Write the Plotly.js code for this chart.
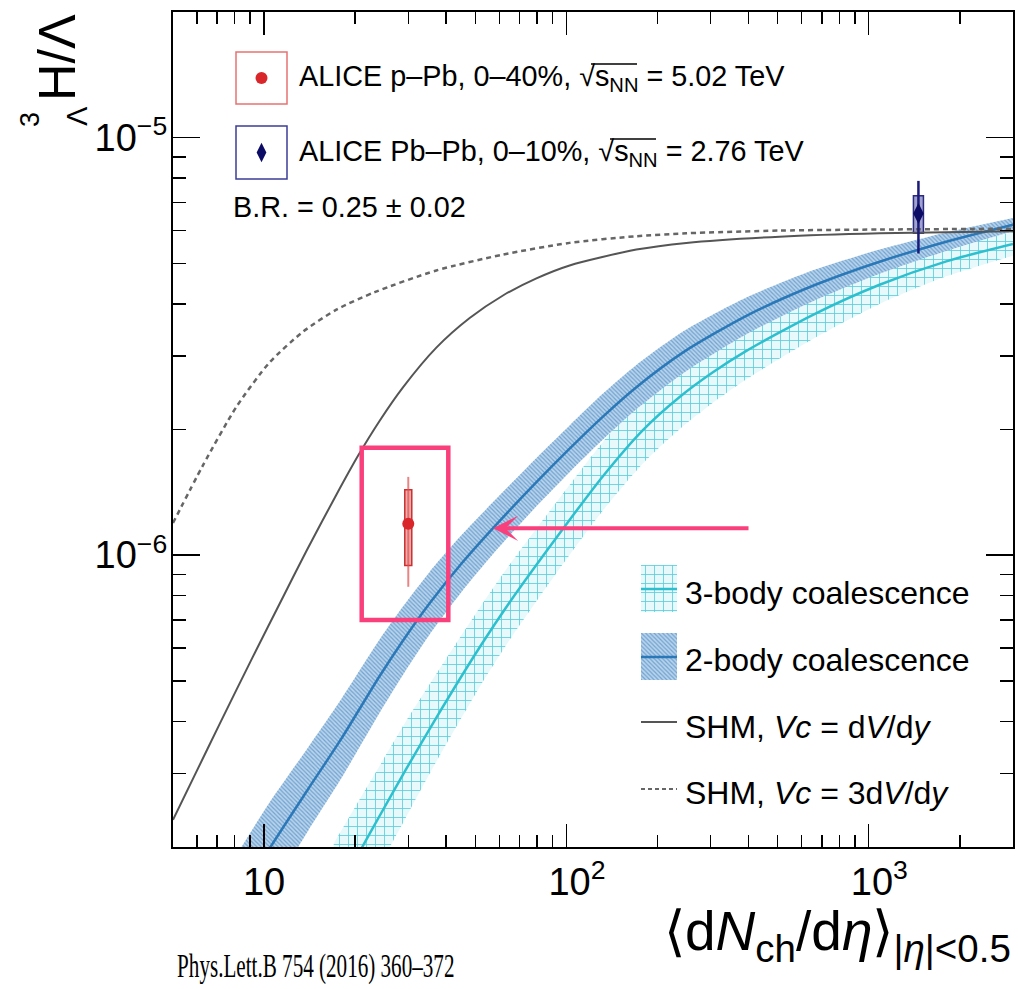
<!DOCTYPE html>
<html>
<head>
<meta charset="utf-8">
<script src="https://cdn.plot.ly/plotly-3.0.1.min.js"></script>
<style>
  html, body { margin: 0; padding: 0; background: #fff; }
  #chart { width: 1018px; height: 989px; }
</style>
</head>
<body>
<div id="chart"></div>
<script>
// Statistical hadronisation model, Vc = dV/dy
const shmX = [5, 5.9, 7.135, 9.19, 11.56, 13.81, 17.35, 20.46, 24.13, 28.81, 37.15, 47.88, 61.7, 79.6, 102.5, 170.4, 249.3, 507.4, 1086, 3000];
const shmY = [2.323e-7, 2.972e-7, 3.945e-7, 5.715e-7, 7.943e-7, 1.023e-6, 1.396e-6, 1.730e-6, 2.099e-6, 2.523e-6, 3.141e-6, 3.698e-6, 4.188e-6, 4.603e-6, 4.943e-6, 5.395e-6, 5.598e-6, 5.794e-6, 5.902e-6, 5.970e-6];

// Statistical hadronisation model, Vc = 3 dV/dy
const shm3X = [5, 6.28, 8.10, 10.44, 13.45, 17.35, 23.23, 37.15, 61.7, 102.5, 170.4, 249.3, 507.4, 1086, 3000];
const shm3Y = [1.194e-6, 1.641e-6, 2.265e-6, 2.897e-6, 3.428e-6, 3.873e-6, 4.266e-6, 4.808e-6, 5.248e-6, 5.598e-6, 5.808e-6, 5.902e-6, 5.991e-6, 6.026e-6, 6.053e-6];

// 2-body coalescence: central value and uncertainty band
const coal2X  = [8, 10.44, 14, 18, 24.1, 28.8, 35.3, 45, 57.2, 79.6, 102.5, 132.1, 170.4, 246.1, 393.8, 653.9, 1086, 1805, 3000];
const coal2Y  = [1.445e-7, 1.986e-7, 2.754e-7, 3.63e-7, 5.13e-7, 6.24e-7, 7.67e-7, 9.55e-7, 1.161e-6, 1.496e-6, 1.80e-6, 2.148e-6, 2.526e-6, 3.077e-6, 3.744e-6, 4.419e-6, 5.046e-6, 5.635e-6, 6.188e-6];
const coal2Lo = [1.109e-7, 1.542e-7, 2.188e-7, 2.917e-7, 4.188e-7, 5.164e-7, 6.457e-7, 8.166e-7, 1.007e-6, 1.309e-6, 1.581e-6, 1.892e-6, 2.236e-6, 2.743e-6, 3.383e-6, 4.057e-6, 4.720e-6, 5.356e-6, 5.965e-6];
const coal2Hi = [1.884e-7, 2.559e-7, 3.467e-7, 4.519e-7, 6.281e-7, 7.534e-7, 9.12e-7, 1.117e-6, 1.340e-6, 1.710e-6, 2.046e-6, 2.438e-6, 2.855e-6, 3.452e-6, 4.142e-6, 4.812e-6, 5.394e-6, 5.928e-6, 6.422e-6];

// 3-body coalescence: central value and uncertainty band
const coal3X  = [17, 21, 24.13, 29.41, 37.24, 51.67, 64.93, 92.66, 132.1, 179.1, 236.9, 305.2, 393.8, 653.9, 1086, 1805, 3000];
const coal3Y  = [1.511e-7, 1.984e-7, 2.376e-7, 3.060e-7, 4.094e-7, 6.017e-7, 7.715e-7, 1.101e-6, 1.546e-6, 1.994e-6, 2.393e-6, 2.742e-6, 3.085e-6, 3.765e-6, 4.443e-6, 5.056e-6, 5.564e-6];
const coal3Lo = [1.121e-7, 1.488e-7, 1.803e-7, 2.348e-7, 3.215e-7, 4.835e-7, 6.272e-7, 9.056e-7, 1.280e-6, 1.659e-6, 2.004e-6, 2.317e-6, 2.638e-6, 3.294e-6, 3.997e-6, 4.654e-6, 5.216e-6];
const coal3Hi = [2.039e-7, 2.646e-7, 3.132e-7, 3.988e-7, 5.214e-7, 7.487e-7, 9.493e-7, 1.339e-6, 1.868e-6, 2.398e-6, 2.858e-6, 3.243e-6, 3.608e-6, 4.302e-6, 4.939e-6, 5.494e-6, 5.933e-6];

// ALICE measurements
const pPbX = [30];
const pPbY = [1.19e-6];
const pPbStat = [0.35e-6];
const pPbSys = [0.245e-6];

const PbPbX = [1460];
const PbPbY = [6.58e-6];
const PbPbStat = [1.30e-6];
const PbPbSys = [0.68e-6];

// Axis tick labels (exponent labels carry a little leading space so the mantissa sits over the tick)
const xTickVals = [10, 100, 1000];
const xTickText = ['10', '\u00a0\u00a010<sup>2</sup>', '\u00a0\u00a010<sup>3</sup>'];
const yTickVals = [1e-6, 1e-5];
const yTickText = ['10<sup>−6</sup>', '10<sup>−5</sup>'];

// ---------------------------------------------------------------
// Page geometry (pixels) of the plotting frame
const L = 173, R = 1013, T = 12, B = 847;
const X_RANGE = [Math.log10(5), Math.log10(3000)];
const Y_RANGE = [Math.log10(2e-7), Math.log10(2e-5)];
const px = x => (x - L) / (R - L);
const py = y => (B - y) / (B - T);
// horizontal offset of a given number of pixels, as a multiplicative factor on the log x axis
const xFactor = pix => Math.pow(10, pix * (X_RANGE[1] - X_RANGE[0]) / (R - L));

const SANS = 'Liberation Sans, Arial, Helvetica, sans-serif';
const PINK = '#f9407c';
const C2 = '#2a78b8', C3 = '#2cc0cf';

const pat2 = { shape: '\\', size: 3, solidity: 0.4, fgcolor: '#6fa3d2', bgcolor: '#b9d3ea', fillmode: 'replace' };
const pat3 = { shape: '+', size: 9, solidity: 0.18, fgcolor: 'rgba(70,200,215,0.85)', bgcolor: 'rgba(210,243,247,0.55)', fillmode: 'replace' };
const SPL = { shape: 'spline', smoothing: 0.7 };

const traces = [];

// bands
traces.push({ x: coal3X, y: coal3Lo, mode: 'lines', line: Object.assign({ width: 0 }, SPL), hoverinfo: 'skip', showlegend: false });
traces.push({ x: coal3X, y: coal3Hi, mode: 'lines', line: Object.assign({ width: 0 }, SPL), fill: 'tonexty', fillpattern: pat3, fillcolor: 'rgba(210,243,247,0.55)', hoverinfo: 'skip', showlegend: false });
traces.push({ x: coal2X, y: coal2Lo, mode: 'lines', line: Object.assign({ width: 0 }, SPL), hoverinfo: 'skip', showlegend: false });
traces.push({ x: coal2X, y: coal2Hi, mode: 'lines', line: Object.assign({ width: 0 }, SPL), fill: 'tonexty', fillpattern: pat2, fillcolor: '#b9d3ea', hoverinfo: 'skip', showlegend: false });

// central curves
traces.push({ x: coal3X, y: coal3Y, mode: 'lines', line: Object.assign({ color: C3, width: 2.5 }, SPL), showlegend: false });
traces.push({ x: coal2X, y: coal2Y, mode: 'lines', line: Object.assign({ color: C2, width: 2.5 }, SPL), showlegend: false });
traces.push({ x: shmX, y: shmY, mode: 'lines', line: Object.assign({ color: '#555555', width: 2 }, SPL), showlegend: false });
traces.push({ x: shm3X, y: shm3Y, mode: 'lines', line: Object.assign({ color: '#666666', width: 2.5, dash: '5px,4px' }, SPL), showlegend: false });

// data points
traces.push({
  x: pPbX, y: pPbY, mode: 'markers',
  marker: { symbol: 'circle', size: 12, color: '#d9262a' },
  error_y: { type: 'data', array: pPbStat, visible: true, thickness: 2, width: 0, color: 'rgba(225,80,80,0.7)' },
  showlegend: false
});
traces.push({
  x: PbPbX, y: PbPbY, mode: 'markers',
  marker: { symbol: 'diamond-tall', size: 15, color: '#0c0c66' },
  error_y: { type: 'data', array: PbPbStat, visible: true, thickness: 2.5, width: 0, color: '#1a1a7a' },
  showlegend: false
});

// legend swatches drawn in page-pixel coordinates on an overlay axis pair
function rectPath(x0, y0, x1, y1) { return { x: [x0, x1, x1, x0, x0], y: [y0, y0, y1, y1, y0] }; }
const sw3 = rectPath(641, 565, 677, 612);
const sw2 = rectPath(641, 633, 677, 680);
const onPage = { xaxis: 'x2', yaxis: 'y2', showlegend: false, hoverinfo: 'skip' };
traces.push(Object.assign({ x: sw3.x, y: sw3.y, mode: 'lines', fill: 'toself', line: { width: 0 }, fillpattern: pat3, fillcolor: 'rgba(210,243,247,0.55)' }, onPage));
traces.push(Object.assign({ x: [641, 677], y: [589, 589], mode: 'lines', line: { color: C3, width: 2.5 } }, onPage));
traces.push(Object.assign({ x: sw2.x, y: sw2.y, mode: 'lines', fill: 'toself', line: { width: 0 }, fillpattern: pat2, fillcolor: '#b9d3ea' }, onPage));
traces.push(Object.assign({ x: [641, 677], y: [657, 657], mode: 'lines', line: { color: C2, width: 2.5 } }, onPage));
traces.push(Object.assign({ x: [641, 677], y: [722, 722], mode: 'lines', line: { color: '#555555', width: 2 } }, onPage));
traces.push(Object.assign({ x: [641, 677], y: [789, 789], mode: 'lines', line: { color: '#666666', width: 2, dash: '4px,3px' } }, onPage));
traces.push(Object.assign({ x: [261.5], y: [78], mode: 'markers', marker: { symbol: 'circle', size: 12, color: '#d9262a' } }, onPage));
traces.push(Object.assign({ x: [261.5], y: [152.5], mode: 'markers', marker: { symbol: 'diamond-tall', size: 14, color: '#0c0c66' } }, onPage));

// systematic-uncertainty boxes of fixed pixel width around each point
function sysBox(x, y, sys, halfPix, line, fill) {
  return { type: 'rect', xref: 'x', yref: 'y',
    x0: x / xFactor(halfPix), x1: x * xFactor(halfPix), y0: y - sys, y1: y + sys,
    line: { color: line, width: 1.5 }, fillcolor: fill, layer: 'below' };
}

const shapes = [
  sysBox(pPbX[0], pPbY[0], pPbSys[0], 3.5, '#cc2f2f', 'rgba(220,70,70,0.45)'),
  sysBox(PbPbX[0], PbPbY[0], PbPbSys[0], 5, '#2a2a80', 'rgba(70,70,160,0.5)'),
  // highlight frame
  { type: 'rect', xref: 'x2', yref: 'y2', x0: 361.7, x1: 448.3, y0: 447.7, y1: 620,
    line: { color: PINK, width: 4.5 }, fillcolor: 'rgba(0,0,0,0)' },
  // legend frames
  { type: 'rect', xref: 'x2', yref: 'y2', x0: 236, x1: 287, y0: 52, y1: 104,
    line: { color: '#e77171', width: 1.5 }, fillcolor: 'rgba(0,0,0,0)' },
  { type: 'rect', xref: 'x2', yref: 'y2', x0: 236, x1: 287, y0: 126, y1: 179,
    line: { color: '#3c3c98', width: 1.5 }, fillcolor: 'rgba(0,0,0,0)' },
  // radical bars over s_NN
  { type: 'line', xref: 'x2', yref: 'y2', x0: 591, x1: 637, y0: 64, y1: 64, line: { color: '#000', width: 1.3 } },
  { type: 'line', xref: 'x2', yref: 'y2', x0: 610, x1: 656, y0: 139, y1: 139, line: { color: '#000', width: 1.3 } }
];

function txt(x, y, text, size, extra) {
  return Object.assign({ xref: 'paper', yref: 'paper', x: px(x), y: py(y), text: text, showarrow: false,
    xanchor: 'left', yanchor: 'middle', font: { family: SANS, size: size, color: '#000' } }, extra || {});
}

const sqrtS = '√s<sub>NN</sub>';
const annotations = [
  txt(297, 78, 'ALICE p–Pb, 0–40%, ' + sqrtS + ' = 5.02 TeV', 28.8),
  txt(297, 153, 'ALICE Pb–Pb, 0–10%, ' + sqrtS + ' = 2.76 TeV', 28.8),
  txt(231, 207, 'B.R. = 0.25 ± 0.02', 28.8),
  txt(683, 593, '3-body coalescence', 32),
  txt(683, 660, '2-body coalescence', 32),
  txt(683, 727, 'SHM, <i>Vc</i> = d<i>V</i>/d<i>y</i>', 32),
  txt(683, 793, 'SHM, <i>Vc</i> = 3d<i>V</i>/d<i>y</i>', 32),
  // y-axis title
  txt(57, 57, 'H/Λ', 52, { xanchor: 'center', textangle: -90 }),
  txt(30, 120, '3', 27, { xanchor: 'center', textangle: -90 }),
  txt(77, 116, 'Λ', 29, { xanchor: 'center', textangle: -90 }),
  // x-axis title
  txt(1013, 935, '⟨d<i>N</i><sub>ch</sub>/d<i>η</i>⟩<sub>|<i>η</i>|&lt;0.5</sub>', 55, { xanchor: 'right' }),
  // reference
  txt(175, 966, 'Phys.Lett.B 754 (2016) 360–372', 33, { font: { family: 'Liberation Serif, Times New Roman, serif', size: 33, color: '#000' } }),
  // arrow towards the 2-body curve
  { xref: 'paper', yref: 'paper', x: px(493), y: py(528.3), ax: 750 - 493, ay: 0, text: '',
    showarrow: true, arrowhead: 3, arrowsize: 1.05, arrowwidth: 4, arrowcolor: PINK }
];

const axisCommon = {
  type: 'log', showgrid: false, zeroline: false,
  showline: true, linecolor: '#000', linewidth: 2.2, mirror: 'allticks',
  ticks: 'inside', tickcolor: '#000', tickwidth: 1.5, tickmode: 'array',
  tickfont: { family: SANS, size: 38, color: '#000' },
  minor: { ticks: 'inside', dtick: 'D1', tickcolor: '#000', tickwidth: 1.5, showgrid: false }
};

const layout = {
  width: 1018, height: 989,
  margin: { l: L, r: 1018 - R, t: T, b: 989 - B },
  paper_bgcolor: '#fff', plot_bgcolor: '#fff',
  showlegend: false,
  xaxis: Object.assign({}, axisCommon, {
    range: X_RANGE,
    tickvals: xTickVals, ticktext: xTickText, ticklen: 23, ticklabelstandoff: 0,
    minor: Object.assign({}, axisCommon.minor, { ticklen: 12 })
  }),
  yaxis: Object.assign({}, axisCommon, {
    range: Y_RANGE,
    tickvals: yTickVals, ticktext: yTickText, ticklen: 27, ticklabelstandoff: -4,
    minor: Object.assign({}, axisCommon.minor, { ticklen: 13 })
  }),
  xaxis2: { overlaying: 'x', range: [L, R], visible: false, fixedrange: true },
  yaxis2: { overlaying: 'y', range: [B, T], visible: false, fixedrange: true },
  shapes: shapes,
  annotations: annotations
};

Plotly.newPlot('chart', traces, layout, { staticPlot: true, displayModeBar: false }).then(gd => {
  // the journal reference is set in a tall, narrow face
  gd.querySelectorAll('.annotation-text').forEach(t => {
    if (t.textContent.indexOf('Phys.Lett.B') === 0) {
      t.style.transformBox = 'fill-box';
      t.style.transformOrigin = '0% 50%';
      t.style.transform = 'scaleX(0.64)';
    }
  });
});
</script>
</body>
</html>
